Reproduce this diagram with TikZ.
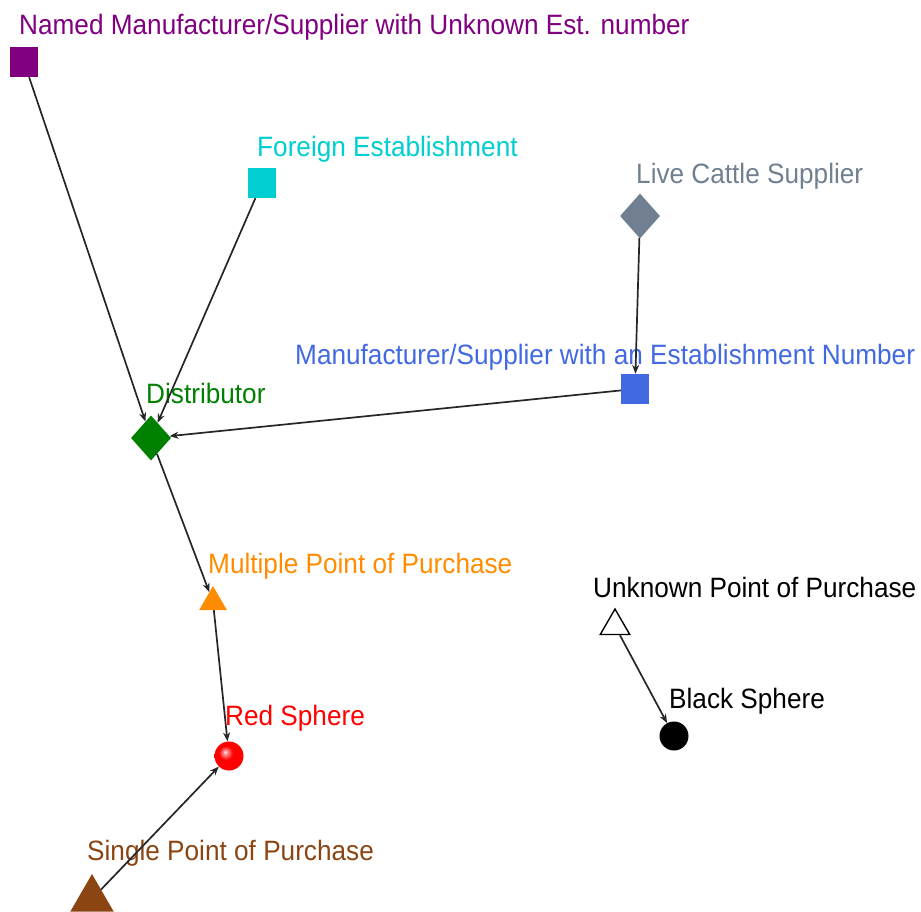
\documentclass[tikz,border=0pt]{standalone}
\usepackage{fontspec}
\setmainfont{Liberation Sans}[FakeStretch=0.935]
\usetikzlibrary{shapes.geometric,arrows.meta,shadings}
\definecolor{cNamed}{HTML}{800080}
\definecolor{cForeign}{HTML}{00CED1}
\definecolor{cCattle}{HTML}{708090}
\definecolor{cManu}{HTML}{4169E1}
\definecolor{cDist}{HTML}{008000}
\definecolor{cMulti}{HTML}{FF8C00}
\definecolor{cSingle}{HTML}{8B4513}
\definecolor{cRed}{HTML}{FF0000}
\definecolor{cRedDark}{HTML}{E00000}
\pgfdeclareradialshading{redball}{\pgfpoint{-7bp}{7bp}}{%
  color(0bp)=(white);
  color(3bp)=(white!60!cRed);
  color(12bp)=(cRed);
  color(26bp)=(cRed);
  color(34bp)=(cRedDark);
  color(50bp)=(cRedDark)}
\tikzset{
  lbl/.style={anchor=base west,inner sep=0pt,font=\fontsize{28}{30}\selectfont},
  sq/.style={rectangle,inner sep=0pt,minimum width=28pt,minimum height=30pt},
  dia/.style={diamond,inner sep=0pt,minimum width=40pt,minimum height=45pt},
  tri/.style={regular polygon,regular polygon sides=3,inner sep=0pt,minimum size=#1},
  sph/.style={circle,inner sep=0pt,minimum size=29pt},
  conn/.style={line width=1.7pt,black!85,-{Stealth[length=9pt,width=7pt]}},
}
\begin{document}
\begin{tikzpicture}[x=1pt,y=-1pt]
\useasboundingbox (0,0) rectangle (921,912);
\clip (0,0) rectangle (921,912);
% nodes
\node[sq,fill=cNamed] (named) at (24,62) {};
\node[sq,fill=cForeign] (foreign) at (262,183) {};
\node[dia,fill=cCattle] (cattle) at (640,216) {};
\node[sq,fill=cManu] (manu) at (635,389) {};
\node[dia,fill=cDist] (dist) at (151,438) {};
\node[tri=32pt,fill=cMulti] (multi) at (213,602) {};
\node[sph,shading=redball] (red) at (229,756) {};
\node[tri=50pt,fill=cSingle] (single) at (92,899) {};
\node[tri=34pt,draw=black,line width=1.4pt,fill=white] (unknown) at (615,626) {};
\node[sph,fill=black] (black) at (674,736) {};
% labels
\node[lbl,text=cNamed] (lnamed) at (19,35) {Named Manufacturer/Supplier with Unknown Est. number};
\node[lbl,text=cForeign] (lforeign) at (257,157) {Foreign Establishment};
\node[lbl,text=cCattle] (lcattle) at (636,184) {Live Cattle Supplier};
\node[lbl,text=cManu] (lmanu) at (295,364) {Manufacturer/Supplier with an Establishment Number};
\node[lbl,text=cDist] (ldist) at (146,403) {Distributor};
\node[lbl,text=cMulti] (lmulti) at (208,573) {Multiple Point of Purchase};
\node[lbl,text=red] (lred) at (225,725) {Red Sphere};
\node[lbl,text=black] (lunknown) at (593,597) {Unknown Point of Purchase};
\node[lbl,text=black] (lblack) at (669,708) {Black Sphere};
\node[lbl,text=cSingle] (lsingle) at (87,860) {Single Point of Purchase};
% connectors
\draw[conn] (named) -- (dist);
\draw[conn] (foreign) -- (dist);
\draw[conn] (cattle) -- (manu);
\draw[conn] (manu) -- (dist);
\draw[conn] (dist) -- (multi);
\draw[conn] (multi) -- (red);
\draw[conn] (single) -- (red);
\draw[conn] (unknown) -- (black);
\end{tikzpicture}
\end{document}
